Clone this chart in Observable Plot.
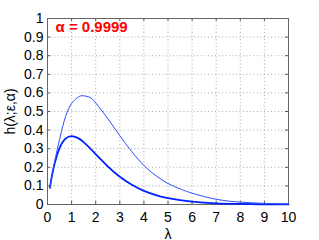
<!DOCTYPE html>
<html>
<head>
<meta charset="utf-8">
<script src="https://cdn.jsdelivr.net/npm/d3@7"></script>
<script src="https://cdn.jsdelivr.net/npm/@observablehq/plot@0.6"></script>
<style>
  html, body { margin: 0; padding: 0; background: #fff; }
  #chart svg { display: block; }
</style>
</head>
<body>
<div id="chart"></div>
<script>
// lambda values (x) and the two curves
const lambdaThin = [0.1, 0.25, 0.5, 0.75, 1.0, 1.25, 1.45, 1.75, 2.0, 2.5, 3.0, 3.5, 4.0, 4.5, 5.0, 5.5, 6.0, 7.0, 8.0, 9.0, 10.0];
const hThin      = [0.09, 0.2, 0.35, 0.473, 0.543, 0.575, 0.585, 0.576, 0.546, 0.462, 0.37, 0.284, 0.21, 0.155, 0.113, 0.084, 0.061, 0.028, 0.013, 0.006, 0.003];
const lambdaThick = [0.1, 0.25, 0.5, 0.75, 1.0, 1.25, 1.5, 2.0, 2.5, 3.0, 3.5, 4.0, 4.5, 5.0, 6.0, 7.0, 8.0, 9.0, 10.0];
const hThick      = [0.09, 0.195, 0.303, 0.354, 0.368, 0.358, 0.335, 0.271, 0.205, 0.149, 0.106, 0.073, 0.05, 0.034, 0.015, 0.006, 0.003, 0.001, 0.0005];
const xTicks = [0, 1, 2, 3, 4, 5, 6, 7, 8, 9, 10];
const yTicks = [0, 0.1, 0.2, 0.3, 0.4, 0.5, 0.6, 0.7, 0.8, 0.9, 1];
const annotation = ["α = 0.9999"];

const thin = lambdaThin.map((x, i) => ({x, y: hThin[i]}));
const thick = lambdaThick.map((x, i) => ({x, y: hThick[i]}));

const W = 319, H = 240, mt = 18, mb = 36, ml = 47, mr = 31;
const innerH = H - mt - mb, innerW = W - ml - mr;
const tick = 3;

const chart = Plot.plot({
  width: W, height: H,
  marginTop: mt, marginBottom: mb, marginLeft: ml, marginRight: mr,
  style: {fontFamily: "'Liberation Sans', Arial, sans-serif", fontSize: "14px", color: "#000", background: "#fff"},
  x: {domain: [0, 10]},
  y: {domain: [0, 1]},
  marks: [
    Plot.gridX(xTicks.slice(1, -1), {stroke: "#aaa", strokeOpacity: 1, strokeDasharray: "1,2.5"}),
    Plot.gridY(yTicks.slice(1, -1), {stroke: "#aaa", strokeOpacity: 1, strokeDasharray: "1,2.5"}),
    // inward ticks, all four sides
    Plot.ruleX(xTicks, {x: d => d, insetTop: innerH - tick, stroke: "#555"}),
    Plot.ruleX(xTicks, {x: d => d, insetBottom: innerH - tick, stroke: "#555"}),
    Plot.ruleY(yTicks, {y: d => d, insetRight: innerW - tick, stroke: "#555"}),
    Plot.ruleY(yTicks, {y: d => d, insetLeft: innerW - tick, stroke: "#555"}),
    Plot.frame({stroke: "#666"}),
    Plot.axisX(xTicks, {tickSize: 0, tickPadding: 8, fontSize: 14,
      label: "λ", labelAnchor: "center", labelArrow: "none", labelOffset: 34}),
    Plot.axisY(yTicks, {tickSize: 0, tickPadding: 4, fontSize: 14,
      tickFormat: d => String(+d.toFixed(1)),
      label: "h(λ;ε,α)", labelAnchor: "center", labelArrow: "none", labelOffset: 42}),
    Plot.line(thick, {x: "x", y: "y", stroke: "#0022ff", strokeWidth: 1.8, curve: "natural"}),
    Plot.line(thin, {x: "x", y: "y", stroke: "#2a4dff", strokeWidth: 1, curve: "natural"}),
    Plot.text(annotation, {frameAnchor: "top-left", dx: 8, dy: 3, lineAnchor: "top", textAnchor: "start",
      fill: "#ff0000", fontWeight: "bold", fontSize: 15})
  ]
});
document.getElementById("chart").appendChild(chart);
</script>
</body>
</html>
